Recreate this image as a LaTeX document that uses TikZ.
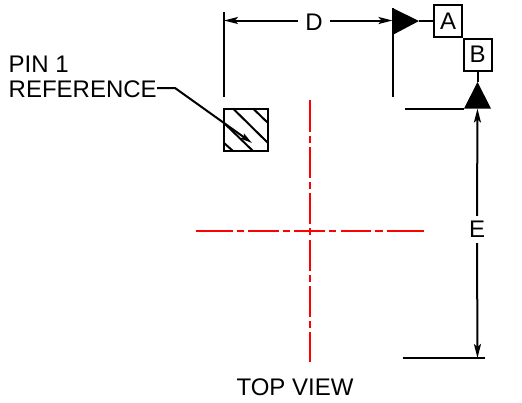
\documentclass[tikz,border=0pt]{standalone}
\usepackage{fontspec}
\setmainfont{Liberation Sans}
\usetikzlibrary{arrows.meta}
\tikzset{
    line/.style={line width=2pt},
    centerline/.style={line width=2pt, red},
    dimarrow/.style={line width=2pt, -{Stealth[length=14pt,width=7pt,inset=3pt]}},
    datumbox/.style={draw, line width=2pt, minimum width=28pt, minimum height=32pt, inner sep=0pt, font=\fontsize{24}{24}\selectfont},
    dimlabel/.style={inner sep=0pt, font=\fontsize{24}{24}\selectfont},
}
\begin{document}
\begin{tikzpicture}[x=1pt,y=-1pt]
        \useasboundingbox (0,0) rectangle (522,402);

        % Draw the hatched pin 1 square
        \draw[line] (224,108.5) rectangle (268,151);
        \draw[line] (233,108.5) -- (268,143);
        \draw[line] (253,108.5) -- (268,123);
        \draw[line] (224,123) -- (253,151);
        \draw[line] (224,143) -- (233,151);

        % Draw the pin 1 label and its leader
        \node[dimlabel, align=left, anchor=west, font=\fontsize{24}{25}\selectfont] (pinlabel) at (8.5,76.5) {PIN 1\\REFERENCE};
        \coordinate (leaderbend) at (175,88);
        \coordinate (leaderend) at (252,143);
        \draw[line, -{Stealth[length=12pt,width=6pt,inset=2pt]}] (157,88) -- (leaderbend) -- (leaderend);

        % Draw the center lines
        \coordinate (vtop) at (310,100);
        \coordinate (vbottom) at (310,362);
        \coordinate (hleft) at (196,231);
        \coordinate (hright) at (424,231);
        \draw[centerline, dash pattern=on 32pt off 4pt on 7pt off 4pt on 31pt off 4pt on 7pt off 4pt on 31pt off 4pt on 7pt off 5pt on 31pt off 4pt on 7pt off 4pt on 31pt off 4pt on 7pt off 4pt on 30pt] (vtop) -- (vbottom);
        \draw[centerline, dash pattern=on 37pt off 4pt on 7pt off 4pt on 31pt off 4pt on 7pt off 4pt on 31pt off 4pt on 7pt off 5pt on 30pt off 4pt on 8pt off 4pt on 37pt] (hleft) -- (hright);

        % Draw the dimension D
        \coordinate (dleft) at (224,20.5);
        \coordinate (dright) at (392.5,20.5);
        \draw[line] (224,12) -- (224,97);
        \draw[line] (392.5,8) -- (392.5,97);
        \node[dimlabel, minimum width=32pt, minimum height=27pt] (dimD) at (314,22) {D};
        \draw[dimarrow] (dimD.west |- dleft) -- (dleft);
        \draw[dimarrow] (dimD.east |- dright) -- (dright);

        % Draw the datum A flag
        \node[datumbox] (boxA) at (448,21) {A};
        \fill (392.5,8) -- (419,21) -- (392.5,35) -- cycle;
        \coordinate (flagA) at (419,21);
        \draw[line] (flagA) -- (boxA);

        % Draw the datum B flag
        \node[datumbox] (boxB) at (477.5,54.5) {B};
        \fill (477.5,82) -- (491,108.5) -- (464,108.5) -- cycle;
        \coordinate (flagB) at (477.5,82);
        \draw[line] (boxB) -- (flagB);

        % Draw the dimension E
        \coordinate (etop) at (477.5,108.5);
        \coordinate (ebottom) at (477.5,358);
        \node[dimlabel, minimum width=32pt, minimum height=27pt] (dimE) at (477,229.5) {E};
        \draw[line] (405,108.5) -- (464,108.5);
        \draw[line] (403,357.5) -- (485,357.5);
        \draw[dimarrow] (dimE.north) -- (etop);
        \draw[dimarrow] (dimE.south) -- (ebottom);

        % Label the view
        \node[dimlabel, anchor=center] (viewlabel) at (295,387) {TOP VIEW};
    \end{tikzpicture}
\end{document}
